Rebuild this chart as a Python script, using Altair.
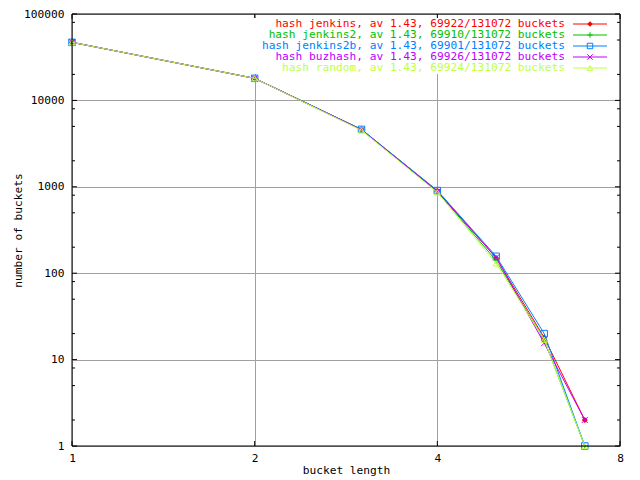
import altair as alt
import pandas as pd

# ---------------- data ----------------
bucket_length = [1, 2, 3, 4, 5, 6, 7]
series_names = ["jenkins", "jenkins2", "jenkins2b", "buzhash", "random"]
series_used = [69922, 69910, 69901, 69926, 69924]
total_buckets = 131072
average_length = 1.43
counts = {
    "jenkins":   [47000, 18000, 4600, 900, 150, 18, 2],
    "jenkins2":  [47000, 18000, 4600, 880, 140, 17, 1],
    "jenkins2b": [47000, 18000, 4620, 905, 157, 20, 1],
    "buzhash":   [47000, 18000, 4550, 880, 152, 15.5, 2],
    "random":    [47000, 18000, 4500, 860, 130, 17, 1],
}
colors = ["#ff0000", "#00c000", "#0080ff", "#c000ff", "#c0ff40"]
x_ticks = [1, 2, 4, 8]
y_major = [1, 10, 100, 1000, 10000, 100000]
y_minor = [2, 5, 8, 20, 50, 80, 200, 500, 800, 2000, 5000, 8000, 20000, 50000, 80000]

# ---------------- style ----------------
W, H = 548, 432
FONT = "DejaVu Sans Mono"
FS = 11.2
shapes = [
    "diamond",
    "M-1,0L1,0M0,-1L0,1",
    "square",
    "M-1,-1L1,1M-1,1L1,-1",
    "triangle-up",
]
filled = [True, False, False, False, False]

xscale = alt.Scale(type="log", base=2, domain=[1, 8], nice=False)
yscale = alt.Scale(type="log", domain=[1, 100000], nice=False)

xaxis = alt.Axis(values=x_ticks, format="d", title="bucket length",
                 grid=True, gridColor="#a0a0a0", gridOpacity=1, ticks=False, tickSize=0,
                 domain=False, labelPadding=6, titlePadding=1,
                 labelFont=FONT, labelFontSize=FS, titleFont=FONT,
                 titleFontSize=FS, titleFontWeight="normal",
                 labelColor="black", titleColor="black", labelFlush=False)
yaxis = alt.Axis(values=y_major, format="d", title="number of buckets",
                 grid=True, gridColor="#a0a0a0", gridOpacity=1, ticks=False, tickSize=0,
                 domain=False, labelPadding=8, titlePadding=0,
                 labelFont=FONT, labelFontSize=FS, titleFont=FONT,
                 titleFontSize=FS, titleFontWeight="normal",
                 labelColor="black", titleColor="black", labelFlush=False)


def X():
    return alt.X("len:Q", scale=xscale, axis=xaxis)


def Y():
    return alt.Y("count:Q", scale=yscale, axis=yaxis)


layers = []

# base layer carrying the axes and grid
axis_df = pd.DataFrame({"len": [1, 8], "count": [1, 100000]})
layers.append(alt.Chart(axis_df).mark_point(opacity=0).encode(x=X(), y=Y()))

# inward ticks
maj_df = pd.DataFrame({"count": y_major})
min_df = pd.DataFrame({"count": y_minor})
xt_df = pd.DataFrame({"len": x_ticks})
for df, ln in [(maj_df, 5), (min_df, 3)]:
    layers.append(alt.Chart(df).mark_rule(color="black", strokeWidth=1).encode(
        y=Y(), x=alt.value(0), x2=alt.value(ln)))
    layers.append(alt.Chart(df).mark_rule(color="black", strokeWidth=1).encode(
        y=Y(), x=alt.value(W - ln), x2=alt.value(W)))
layers.append(alt.Chart(xt_df).mark_rule(color="black", strokeWidth=1).encode(
    x=X(), y=alt.value(H - 5), y2=alt.value(H)))
layers.append(alt.Chart(xt_df).mark_rule(color="black", strokeWidth=1).encode(
    x=X(), y=alt.value(0), y2=alt.value(5)))

# legend background (opaque key)
one = pd.DataFrame({"a": [0]})
layers.append(alt.Chart(one).mark_rect(color="white").encode(
    x=alt.value(176), x2=alt.value(538), y=alt.value(4), y2=alt.value(60)))

# series
for i, name in enumerate(series_names):
    df = pd.DataFrame({"len": bucket_length, "count": counts[name]})
    layers.append(alt.Chart(df).mark_line(color=colors[i], strokeWidth=1).encode(
        x=X(), y=Y()))
    layers.append(alt.Chart(df).mark_point(
        shape=shapes[i], color=colors[i], filled=filled[i], size=36 if i != 2 else 42,
        strokeWidth=1, opacity=1).encode(x=X(), y=Y()))

# legend entries
for i, name in enumerate(series_names):
    yy = 10 + i * 11
    label = f"hash {name}, av {average_length:.2f}, {series_used[i]}/{total_buckets} buckets"
    layers.append(alt.Chart(one).mark_text(
        align="right", baseline="middle", font=FONT, fontSize=FS, color=colors[i]).encode(
        x=alt.value(493), y=alt.value(yy), text=alt.value(label)))
    layers.append(alt.Chart(one).mark_rule(color=colors[i], strokeWidth=1).encode(
        x=alt.value(501), x2=alt.value(535), y=alt.value(yy)))
    layers.append(alt.Chart(one).mark_point(
        shape=shapes[i], color=colors[i], filled=filled[i], size=30, strokeWidth=1,
        opacity=1).encode(x=alt.value(518), y=alt.value(yy)))

# border on top
layers.append(alt.Chart(one).mark_rect(filled=False, stroke="black", strokeWidth=1).encode(
    x=alt.value(0), x2=alt.value(W), y=alt.value(0), y2=alt.value(H)))

chart = alt.layer(*layers).properties(
    width=W, height=H,
    autosize=alt.AutoSizeParams(type="none"),
    padding={"left": 64, "top": 6, "right": 8, "bottom": 30},
    background="white",
).configure_view(stroke=None)

chart.save("out.html", embed_options={"renderer": "svg", "actions": False})
